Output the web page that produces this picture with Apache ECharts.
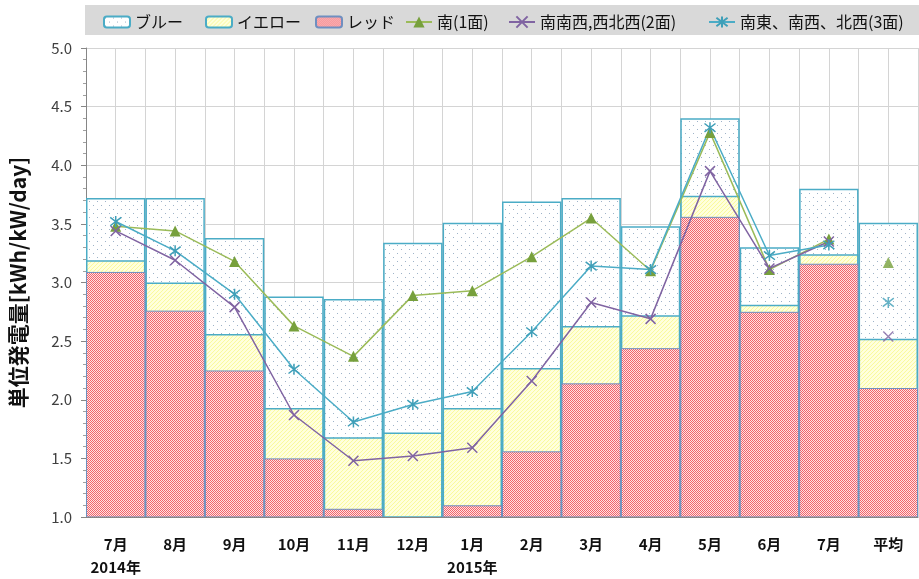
<!DOCTYPE html>
<html><head><meta charset="utf-8">
<script src="https://cdn.jsdelivr.net/npm/echarts@6/dist/echarts.min.js"></script>
<style>html,body{margin:0;padding:0;background:#fff}#c{width:919px;height:579px}</style>
</head><body><div id="c"></div>
<script>
const categories = ['7月\n2014年','8月','9月','10月','11月','12月','1月\n2015年','2月','3月','4月','5月','6月','7月','平均'];
const blueVals   = [3.72,3.72,3.38,2.88,2.86,3.34,3.51,3.69,3.72,3.48,4.40,3.30,3.80,3.51];
const yellowVals = [3.19,3.00,2.56,1.93,1.68,1.72,1.93,2.27,2.63,2.72,3.74,2.81,3.24,2.52];
const redVals    = [3.09,2.76,2.25,1.50,1.07,0.95,1.10,1.56,2.14,2.44,3.56,2.75,3.16,2.10];
const south1     = [3.48,3.44,3.18,2.63,2.37,2.89,2.93,3.22,3.55,3.10,4.28,3.11,3.37,3.17];
const ssw2       = [3.44,3.19,2.79,1.87,1.48,1.52,1.59,2.16,2.83,2.69,3.95,3.12,3.35,2.54];
const se3        = [3.52,3.27,2.90,2.26,1.81,1.96,2.07,2.58,3.14,3.11,4.32,3.23,3.32,2.83];
const names = ['ブルー','イエロー','レッド','南(1面)','南南西,西北西(2面)','南東、南西、北西(3面)'];

function pattern(w,h,draw){const c=document.createElement('canvas');c.width=w;c.height=h;const x=c.getContext('2d');draw(x);return {image:c,repeat:'repeat'};}
const redPat = pattern(2,2,x=>{x.fillStyle='#ffe2e2';x.fillRect(0,0,2,2);x.fillStyle='#f2646c';x.fillRect(0,0,1,1);x.fillRect(1,1,1,1);});
const yelPat = pattern(4,4,x=>{x.fillStyle='#ffffdc';x.fillRect(0,0,4,4);x.fillStyle='#fafa9c';x.fillRect(0,0,1,1);x.fillRect(2,2,1,1);x.fillRect(1,3,1,1);x.fillRect(3,1,1,1);});
const bluPat = pattern(8,8,x=>{x.fillStyle='#ffffff';x.fillRect(0,0,8,8);x.fillStyle='#9fb3c8';x.fillRect(1,1,1,1);x.fillRect(5,5,1,1);});

const lineOnly = a => a.map((v,i)=> i<a.length-1 ? v : '-');
const avgOnly = a => a.map((v,i)=> i===a.length-1 ? v : '-');
const XSYM = 'path://M0,0L10,10M10,0L0,10';
const ASYM = 'path://M0,0L10,10M10,0L0,10M5,-1.5L5,11.5';
const font = '"Noto Sans CJK JP","Noto Sans",sans-serif';

const lineDefs = [
  {name:names[3], data:south1, color:'#9bbb59', sym:'triangle', size:11, item:{color:'#77a03c'}},
  {name:names[4], data:ssw2, color:'#8064a2', sym:XSYM, size:10, item:{color:'transparent',borderColor:'#8064a2',borderWidth:1.5}},
  {name:names[5], data:se3, color:'#4bacc6', sym:ASYM, size:11, item:{color:'transparent',borderColor:'#3f9fb8',borderWidth:1.5}}
];

const series = [
  {name:names[0], type:'bar', data:blueVals, barGap:'-100%', barCategoryGap:0, itemStyle:{color:bluPat,borderColor:'#4bacc6',borderWidth:1.5}, z:2},
  {name:names[1], type:'bar', data:yellowVals, barGap:'-100%', barCategoryGap:0, itemStyle:{color:yelPat,borderColor:'#4bacc6',borderWidth:1.5}, z:3},
  {name:names[2], type:'bar', data:redVals, barGap:'-100%', barCategoryGap:0, itemStyle:{color:redPat,borderColor:'#6f8fc0',borderWidth:1}, z:4}
];
lineDefs.forEach(d=>{
  series.push({name:d.name,type:'line',data:lineOnly(d.data),symbol:d.sym,symbolSize:d.size,showAllSymbol:true,lineStyle:{color:d.color,width:1.5},itemStyle:d.item,z:10});
  series.push({name:d.name,type:'scatter',data:avgOnly(d.data),symbol:d.sym,symbolSize:d.size,itemStyle:d.item,z:10});
});

const legendLefts = [98, 200, 310, 400, 503, 703];
const legends = names.map((n,i)=>({
  data:[n], left:legendLefts[i], top:9, itemWidth:26, itemHeight:i<3?11:14, itemGap:4,
  textStyle:{fontSize:16,color:'#111',fontFamily:font}
}));

const chart = echarts.init(document.getElementById('c'));
chart.setOption({
  animation:false,
  backgroundColor:'#fff',
  graphic:[{type:'rect',shape:{x:85,y:5,width:834,height:30},style:{fill:'#d9d9d9'},z:-1}],
  legend:legends,
  grid:{left:85,right:1,top:48,bottom:57},
  xAxis:[
    {type:'category',data:categories,axisLine:{lineStyle:{color:'#868686'}},axisTick:{show:false},
     axisLabel:{fontSize:15,fontWeight:'bold',color:'#111',fontFamily:font,margin:16,lineHeight:23,interval:0},z:5},
    {type:'value',min:0,max:28,interval:1,show:true,position:'bottom',axisLine:{show:false},axisTick:{show:false},axisLabel:{show:false},
     splitLine:{show:true,lineStyle:{color:'#d4d4d4',width:1}}}
  ],
  yAxis:{type:'value',min:1,max:5,interval:0.5,
    name:'単位発電量[kWh/kW/day]',nameLocation:'middle',nameGap:57,
    nameTextStyle:{fontSize:21,fontWeight:'bold',color:'#111',fontFamily:font},
    axisLabel:{fontSize:15,color:'#404040',formatter:v=>v.toFixed(1),margin:14,fontFamily:font},
    axisLine:{show:true,lineStyle:{color:'#868686'}},
    axisTick:{show:true,length:5,lineStyle:{color:'#868686'}},
    minorTick:{show:true,splitNumber:5,length:3,lineStyle:{color:'#a0a0a0'}},
    splitLine:{lineStyle:{color:'#d4d4d4'}}
  },
  series:series
});
</script></body></html>
